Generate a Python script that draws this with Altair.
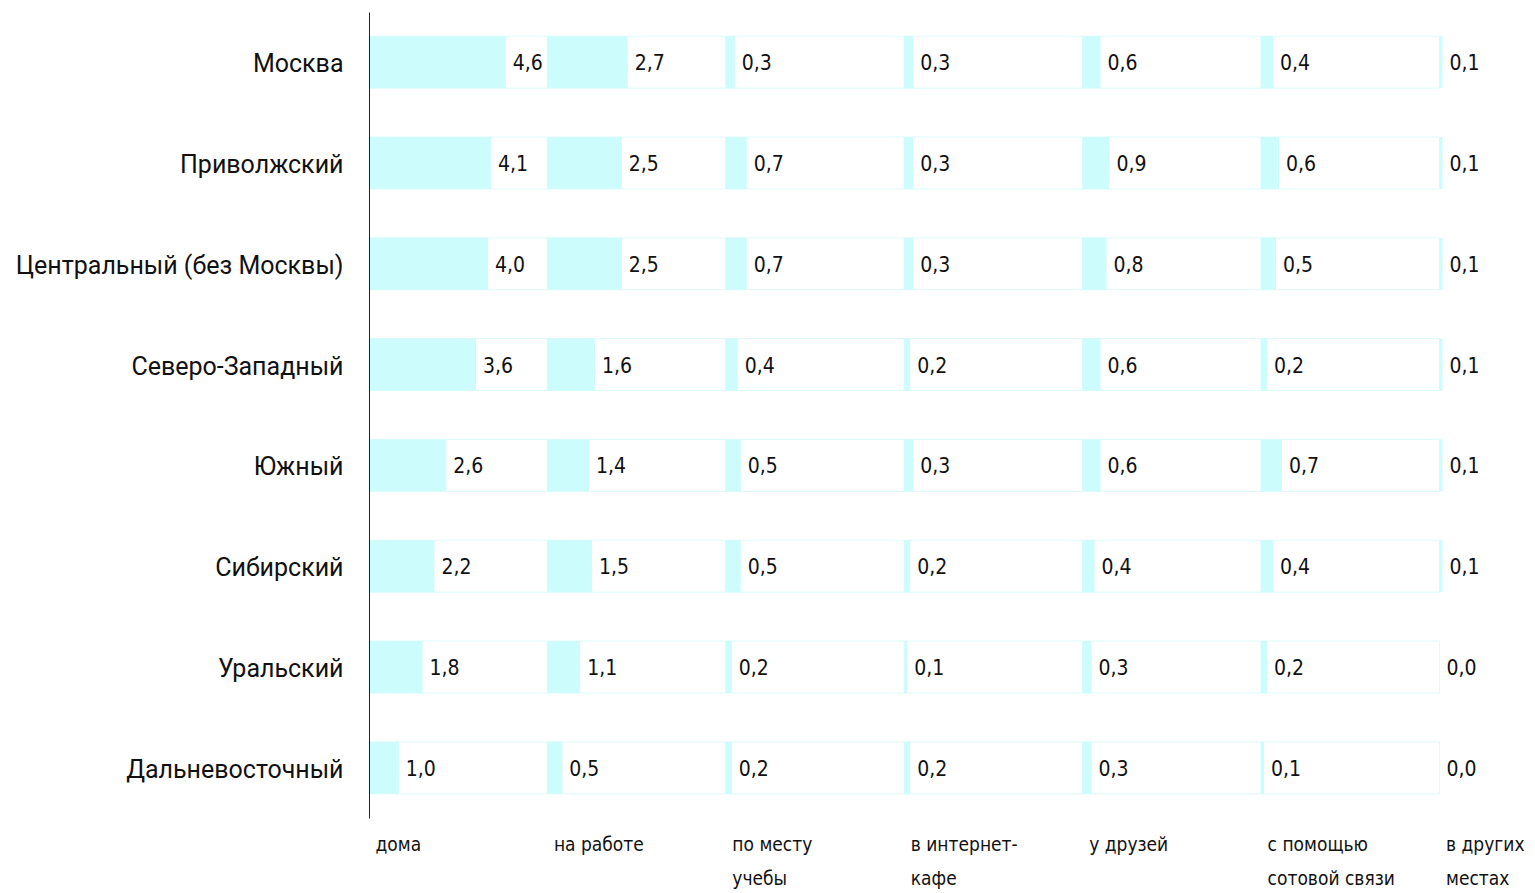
import json
import altair as alt
import pandas as pd

regions = [
    "Москва",
    "Приволжский",
    "Центральный (без Москвы)",
    "Северо-Западный",
    "Южный",
    "Сибирский",
    "Уральский",
    "Дальневосточный",
]
places = [
    "дома",
    "на работе",
    "по месту учебы",
    "в интернет-кафе",
    "у друзей",
    "с помощью сотовой связи",
    "в других местах",
]
place_labels = [
    "дома",
    "на работе",
    "по месту|учебы",
    "в интернет-|кафе",
    "у друзей",
    "с помощью|сотовой связи",
    "в других|местах",
]

home = [4.6, 4.1, 4.0, 3.6, 2.6, 2.2, 1.8, 1.0]
work = [2.7, 2.5, 2.5, 1.6, 1.4, 1.5, 1.1, 0.5]
study = [0.3, 0.7, 0.7, 0.4, 0.5, 0.5, 0.2, 0.2]
cafe = [0.3, 0.3, 0.3, 0.2, 0.3, 0.2, 0.1, 0.2]
friends = [0.6, 0.9, 0.8, 0.6, 0.6, 0.4, 0.3, 0.3]
mobile = [0.4, 0.6, 0.5, 0.2, 0.7, 0.4, 0.2, 0.1]
other = [0.1, 0.1, 0.1, 0.1, 0.1, 0.1, 0.0, 0.0]

series = [home, work, study, cafe, friends, mobile, other]

rows = []
for pi, (place, vals) in enumerate(zip(places, series)):
    for region, v in zip(regions, vals):
        rows.append({"region": region, "place": place, "idx": pi, "value": v})
df = pd.DataFrame(rows)

SPAN = 6  # each category column spans 6 units on the shared x scale
tick_vals = [i * SPAN for i in range(len(places))]
label_expr = "split(%s[round(datum.value / %d)], '|')" % (
    json.dumps(place_labels, ensure_ascii=False), SPAN)

NARROW = "Liberation Sans Narrow, DejaVu Sans Condensed, sans-serif"
ROWFONT = "Roboto, Noto Sans, sans-serif"

x_axis = alt.Axis(
    values=tick_vals,
    labelExpr=label_expr,
    title=None,
    ticks=False,
    domain=False,
    grid=False,
    labelAlign="left",
    labelBaseline="top",
    labelPadding=17,
    labelOffset=6,
    labelFont=NARROW,
    labelFontSize=19,
    labelLineHeight=34,
    labelColor="#111111",
    labelOverlap=False,
    labelFlush=False,
    labelLimit=400,
)
x_scale = alt.Scale(domain=[0, 38], nice=False, zero=False)

y_axis = alt.Axis(
    title=None,
    ticks=False,
    grid=False,
    domain=True,
    domainColor="#222222",
    domainWidth=1,
    labelFont=ROWFONT,
    labelFontSize=25,
    labelColor="#111111",
    labelPadding=26,
    labelOffset=2,
    labelLimit=500,
    zindex=2,
)
y_scale = alt.Scale(paddingInner=0.485, paddingOuter=0.24)
y_enc = alt.Y("region:N", sort=regions, scale=y_scale, axis=y_axis)

base = alt.Chart(df).transform_calculate(
    start="datum.idx * %d" % SPAN,
    end="datum.idx * %d + datum.value" % SPAN,
    padEnd="datum.idx * %d + %d" % (SPAN, SPAN),
    label="replace(format(datum.value, '.1f'), '.', ',')",
)

pads = base.transform_filter("datum.idx < %d" % (len(places) - 1)).mark_bar(
    fill="white", stroke="#dcfbfb", strokeWidth=1
).encode(
    x=alt.X("start:Q", scale=x_scale, axis=x_axis),
    x2="padEnd:Q",
    y=y_enc,
)

bars = base.mark_bar(fill="#ccfcfc").encode(
    x=alt.X("start:Q", scale=x_scale, axis=x_axis),
    x2="end:Q",
    y=y_enc,
)

labels = base.mark_text(
    align="left", baseline="middle", dx=7, dy=2, font=NARROW, fontSize=21, color="#111111"
).encode(
    x=alt.X("end:Q", scale=x_scale, axis=x_axis),
    y=y_enc,
    text="label:N",
)

chart = (
    alt.layer(pads, bars, labels)
    .properties(
        width=1130,
        height=806,
        autosize=alt.AutoSizeParams(type="none"),
        padding={"left": 361, "top": 4, "right": 28, "bottom": 76},
    )
    .configure_view(stroke=None)
)

chart.save("out.html", embed_options={"renderer": "svg", "actions": False})
